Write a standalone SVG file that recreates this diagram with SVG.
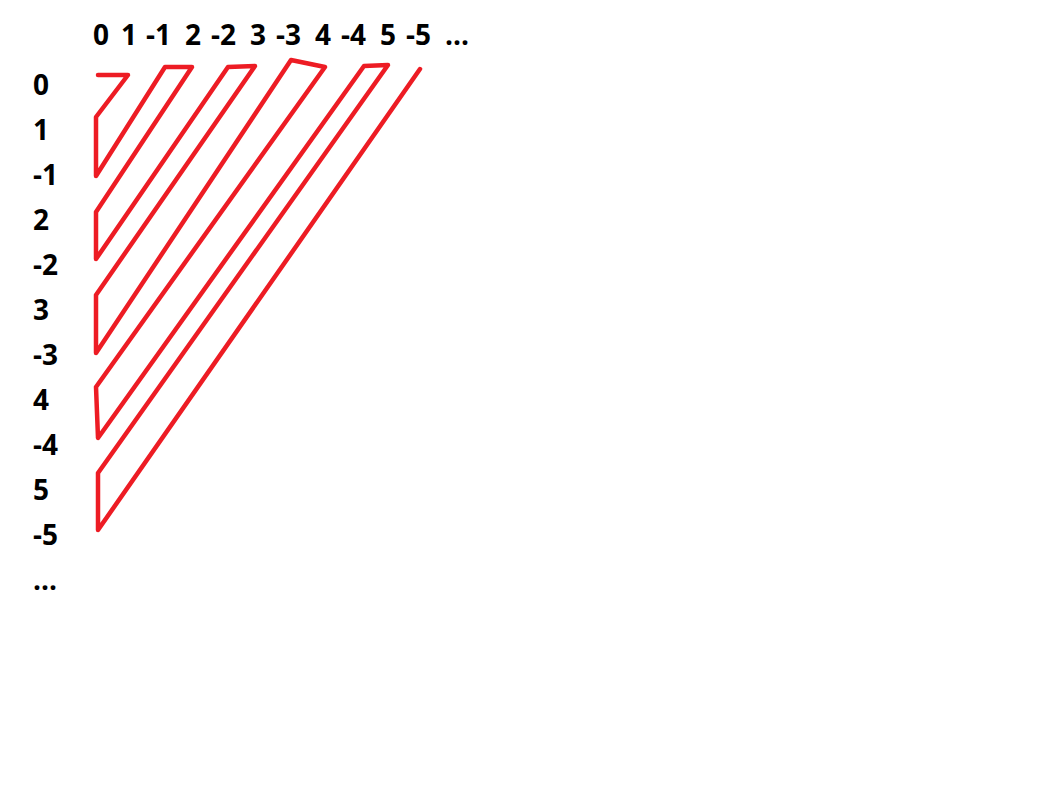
<svg xmlns="http://www.w3.org/2000/svg" width="1063" height="811" viewBox="0 0 1063 811">
<style>
.t{font-family:"Open Sans","Liberation Sans",sans-serif;font-weight:bold;font-size:28px;fill:#000}
.z{fill:none;stroke:#ed1c24;stroke-width:4.5;stroke-linecap:round;stroke-linejoin:round}
</style>
<rect width="1063" height="811" fill="#fff"/>
<g id="top-labels" class="t">
<text x="93" y="45">0</text>
<text x="121" y="45">1</text>
<text x="146" y="45">-1</text>
<text x="185" y="45">2</text>
<text x="211" y="45">-2</text>
<text x="250" y="45">3</text>
<text x="276" y="45">-3</text>
<text x="315" y="45">4</text>
<text x="341" y="45">-4</text>
<text x="380" y="45">5</text>
<text x="406" y="45">-5</text>
<text x="445" y="45">...</text>
</g>
<g id="left-labels" class="t">
<text x="33" y="95">0</text>
<text x="33" y="140">1</text>
<text x="33" y="185">-1</text>
<text x="33" y="230">2</text>
<text x="33" y="275">-2</text>
<text x="33" y="320">3</text>
<text x="33" y="365">-3</text>
<text x="33" y="410">4</text>
<text x="33" y="455">-4</text>
<text x="33" y="500">5</text>
<text x="33" y="545">-5</text>
<text x="33" y="590">...</text>
</g>
<g id="connectors">
<path class="z" d="M98,75 L128,75 L96,117 L96,176 L165,67 L192,67 L96,212 L96,259 L228,67 L255,66 L96,295 L96,353 L291,60 L325,67 L96,387 L98,438 L364,66 L388,65 L98,473 L98,530 L420,69"/>
</g>
</svg>
